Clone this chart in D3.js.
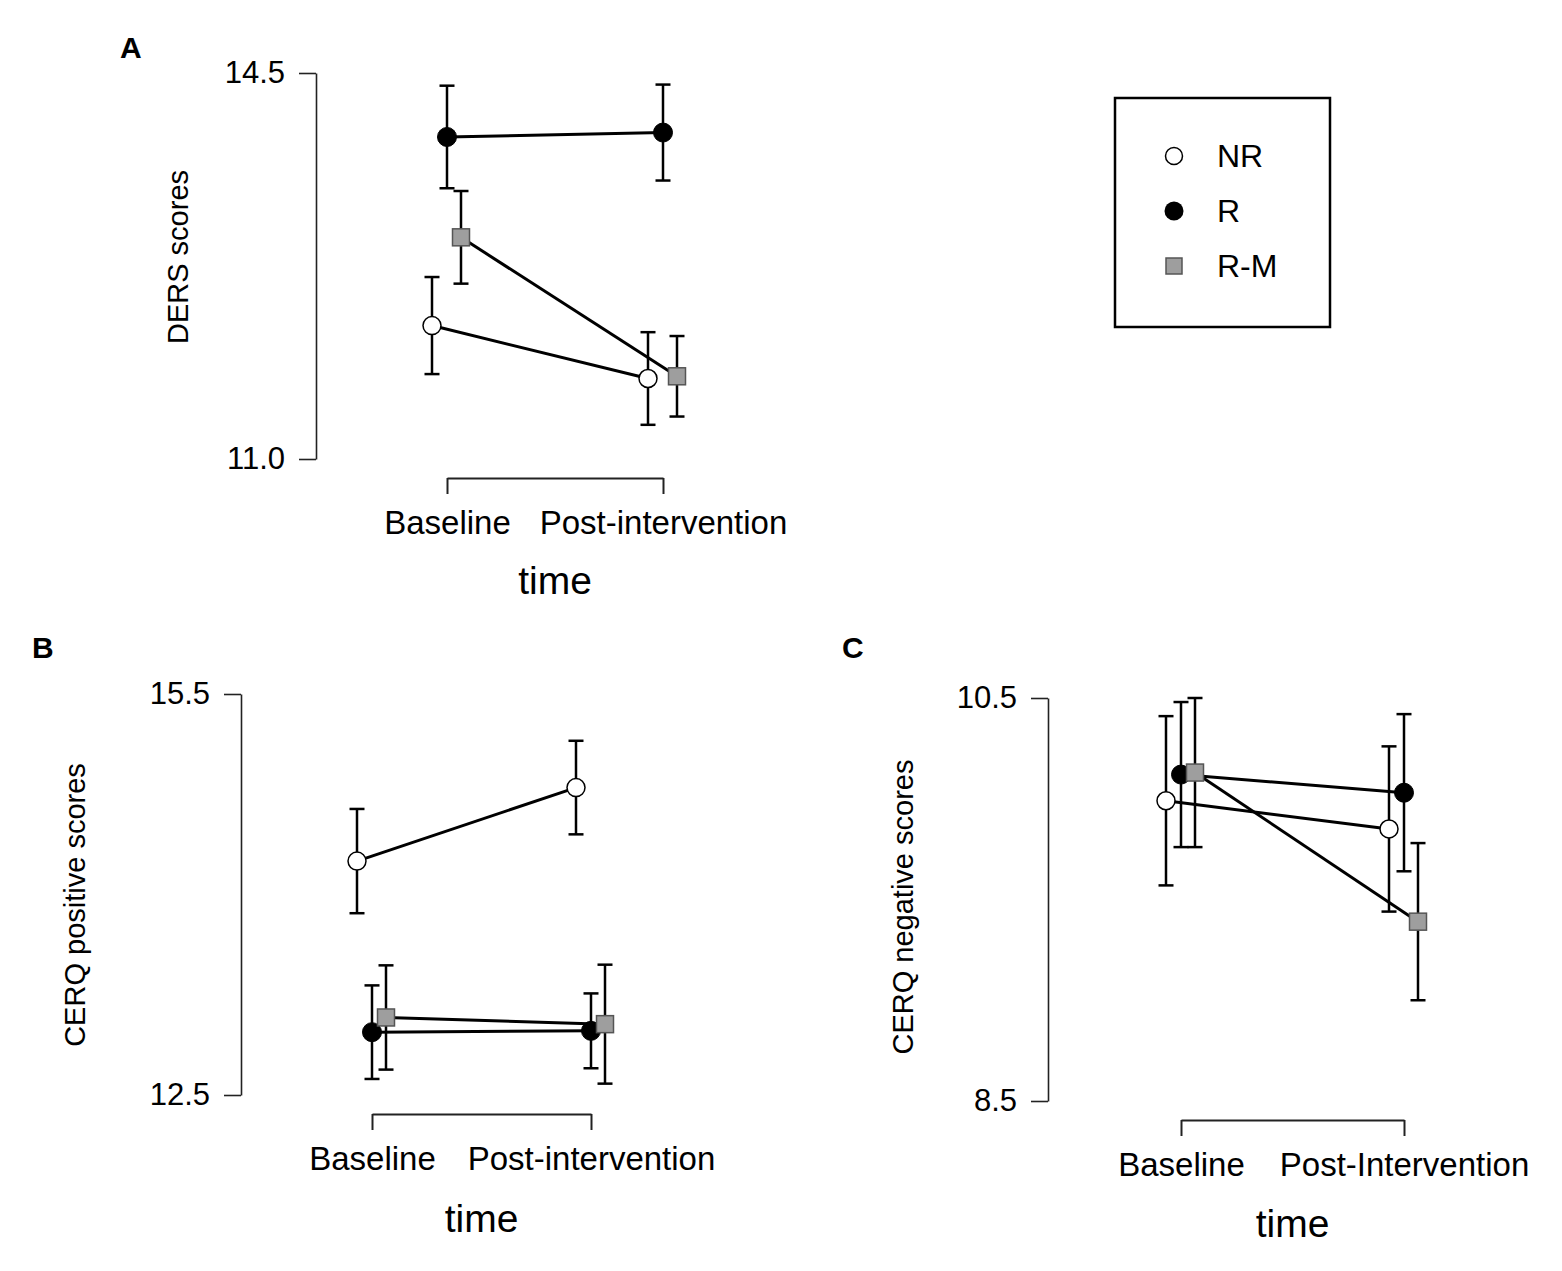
<!DOCTYPE html>
<html>
<head>
<meta charset="utf-8">
<script src="https://cdn.jsdelivr.net/npm/d3@7"></script>
<style>
  body { margin: 0; background: #fff; }
  svg text { font-family: "Liberation Sans", Arial, sans-serif; fill: #000; }
</style>
</head>
<body>
<div id="main"></div>
<script>
var groups = ["NR", "R", "R-M"];
var timesAB = ["Baseline", "Post-intervention"];
var timesC = ["Baseline", "Post-Intervention"];

// A: DERS
var dersNR = [12.21, 11.73], dersNRse = [0.44, 0.42];
var dersR = [13.92, 13.96], dersRse = [0.465, 0.435];
var dersRM = [13.01, 11.75], dersRMse = [0.42, 0.365];
var dersTicks = [11.0, 14.5];

// B: CERQ positive
var posNR = [14.25, 14.80], posNRse = [0.39, 0.35];
var posR = [12.97, 12.98], posRse = [0.35, 0.28];
var posRM = [13.08, 13.03], posRMse = [0.39, 0.445];
var posTicks = [12.5, 15.5];

// C: CERQ negative
var negNR = [9.99, 9.85], negNRse = [0.42, 0.41];
var negR = [10.12, 10.03], negRse = [0.36, 0.39];
var negRM = [10.13, 9.39], negRMse = [0.37, 0.39];
var negTicks = [8.5, 10.5];

var width = 1562, height = 1271;
var svg = d3.select("#main").append("svg")
  .attr("width", width).attr("height", height);

var offsets = { "NR": -15, "R": 0, "R-M": 14 };

function drawPanel(opt) {
  var g = svg.append("g");
  var y = d3.scaleLinear().domain(opt.ticks).range([opt.yBot, opt.yTop]);
  var x = d3.scalePoint().domain(opt.times).range([opt.x0, opt.x1]);

  // y axis
  var ya = g.append("g")
    .attr("transform", "translate(" + opt.axisX + ",0)")
    .call(d3.axisLeft(y).tickValues(opt.ticks).tickFormat(d3.format(".1f"))
      .tickSize(17).tickSizeOuter(0).tickPadding(14));
  ya.selectAll("path, line").attr("stroke", "#222").attr("stroke-width", 1.6);
  ya.selectAll("text").style("font-size", "31px").attr("fill", "#000")
    .style("font-family", "Liberation Sans, Arial, sans-serif");

  // x axis bracket
  var xa = g.append("g")
    .attr("transform", "translate(0," + opt.bracketY + ")")
    .call(d3.axisBottom(x).tickSize(16).tickSizeOuter(0).tickPadding(17));
  xa.selectAll("path, line").attr("stroke", "#222").attr("stroke-width", 2);
  xa.selectAll("text").style("font-size", "33px").attr("fill", "#000")
    .style("font-family", "Liberation Sans, Arial, sans-serif");

  g.append("text").attr("x", (opt.x0 + opt.x1) / 2).attr("y", opt.timeY)
    .attr("text-anchor", "middle").style("font-size", "39px").text("time");

  g.append("text")
    .attr("transform", "translate(" + opt.labelX + "," + opt.labelY + ") rotate(-90)")
    .attr("text-anchor", "middle").style("font-size", "29px").text(opt.ylabel);

  g.append("text").attr("x", opt.letterX).attr("y", opt.letterY)
    .style("font-size", "30px").style("font-weight", "bold").text(opt.letter);

  var series = groups.map(function (k, i) {
    return { key: k, mean: opt.means[i], se: opt.ses[i] };
  });

  function px(s, j) { return x(opt.times[j]) + offsets[s.key]; }

  var line = d3.line()
    .x(function (d) { return d[0]; })
    .y(function (d) { return d[1]; });

  series.forEach(function (s) {
    var pts = s.mean.map(function (m, j) { return [px(s, j), y(m)]; });
    g.append("path").attr("d", line(pts))
      .attr("fill", "none").attr("stroke", "#000").attr("stroke-width", 3);
  });

  series.forEach(function (s) {
    s.mean.forEach(function (m, j) {
      var cx = px(s, j), hi = y(m + s.se[j]), lo = y(m - s.se[j]);
      g.append("line").attr("x1", cx).attr("x2", cx).attr("y1", hi).attr("y2", lo)
        .attr("stroke", "#000").attr("stroke-width", 2.5);
      [hi, lo].forEach(function (yy) {
        g.append("line").attr("x1", cx - 7.5).attr("x2", cx + 7.5).attr("y1", yy).attr("y2", yy)
          .attr("stroke", "#000").attr("stroke-width", 2.5);
      });
    });
  });

  series.forEach(function (s) {
    s.mean.forEach(function (m, j) {
      drawMarker(g, s.key, px(s, j), y(m));
    });
  });
}

function drawMarker(g, key, cx, cy) {
  if (key === "NR") {
    g.append("circle").attr("cx", cx).attr("cy", cy).attr("r", 9)
      .attr("fill", "#fff").attr("stroke", "#000").attr("stroke-width", 1.5);
  } else if (key === "R") {
    g.append("circle").attr("cx", cx).attr("cy", cy).attr("r", 9.5)
      .attr("fill", "#000").attr("stroke", "#000").attr("stroke-width", 1);
  } else {
    g.append("rect").attr("x", cx - 8.5).attr("y", cy - 8.5)
      .attr("width", 17).attr("height", 17)
      .attr("fill", "#9e9e9e").attr("stroke", "#555").attr("stroke-width", 1.5);
  }
}

drawPanel({
  ticks: dersTicks, yTop: 73, yBot: 459, axisX: 316,
  times: timesAB, x0: 447, x1: 663, bracketY: 478, timeY: 594,
  means: [dersNR, dersR, dersRM], ses: [dersNRse, dersRse, dersRMse],
  ylabel: "DERS scores", labelX: 188, labelY: 257,
  letter: "A", letterX: 120, letterY: 58
});

drawPanel({
  ticks: posTicks, yTop: 694, yBot: 1095, axisX: 241,
  times: timesAB, x0: 372, x1: 591, bracketY: 1114, timeY: 1232,
  means: [posNR, posR, posRM], ses: [posNRse, posRse, posRMse],
  ylabel: "CERQ positive scores", labelX: 85, labelY: 905,
  letter: "B", letterX: 32, letterY: 658
});

drawPanel({
  ticks: negTicks, yTop: 698, yBot: 1101, axisX: 1048,
  times: timesC, x0: 1181, x1: 1404, bracketY: 1120, timeY: 1237,
  means: [negNR, negR, negRM], ses: [negNRse, negRse, negRMse],
  ylabel: "CERQ negative scores", labelX: 913, labelY: 907,
  letter: "C", letterX: 842, letterY: 658
});

// legend
var legend = svg.append("g");
legend.append("rect").attr("x", 1115).attr("y", 98).attr("width", 215).attr("height", 229)
  .attr("fill", "#fff").attr("stroke", "#000").attr("stroke-width", 2.5);
groups.forEach(function (k, i) {
  var ly = 156 + i * 55;
  if (k === "NR") {
    legend.append("circle").attr("cx", 1174).attr("cy", ly).attr("r", 8.5)
      .attr("fill", "#fff").attr("stroke", "#000").attr("stroke-width", 1.5);
  } else if (k === "R") {
    legend.append("circle").attr("cx", 1174).attr("cy", ly).attr("r", 9.5).attr("fill", "#000");
  } else {
    legend.append("rect").attr("x", 1166).attr("y", ly - 8).attr("width", 16).attr("height", 16)
      .attr("fill", "#9e9e9e").attr("stroke", "#555").attr("stroke-width", 1.5);
  }
  legend.append("text").attr("x", 1217).attr("y", ly + 11)
    .style("font-size", "32px").text(k);
});
</script>
</body>
</html>
